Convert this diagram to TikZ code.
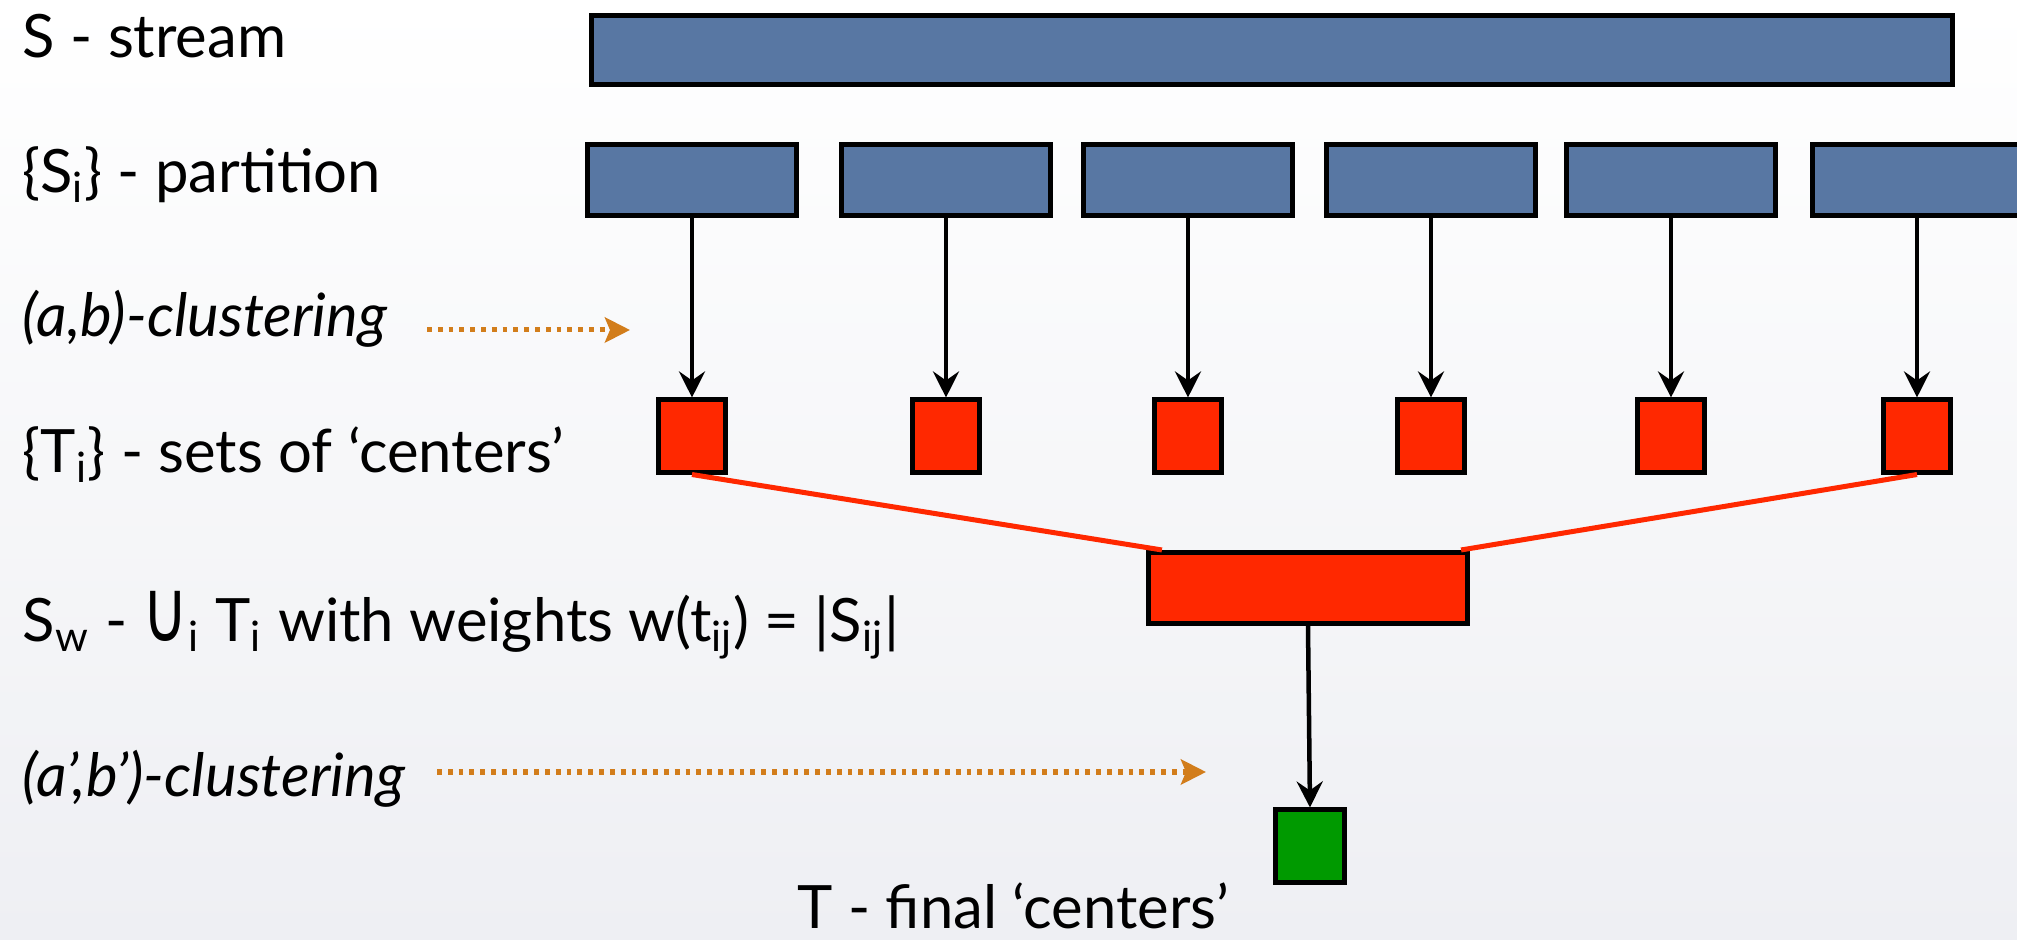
\documentclass[tikz,border=0pt]{standalone}
\usepackage{graphicx}
\usepackage{fontspec}
\setmainfont{Lato}
\newfontfamily\symfont{DejaVu Sans}
\usetikzlibrary{arrows.meta, positioning}
\definecolor{streamblue}{HTML}{5877A3}
\definecolor{centerred}{HTML}{FF2800}
\definecolor{finalgreen}{HTML}{009A00}
\definecolor{arrowgold}{HTML}{D27D1B}
\definecolor{bgbottom}{HTML}{EEEFF3}

\begin{document}
\begin{tikzpicture}[x=0.01cm, y=-0.01cm, line join=miter]
   % Styles
   \tikzset{
    txt/.style={anchor=base west, inner sep=0pt, font=\fontsize{17}{20}\selectfont},
    itxt/.style={txt, font=\fontsize{17}{20}\selectfont\itshape},
    part/.style={draw, line width=0.05cm, fill=streamblue, inner sep=0pt, minimum width=2.09cm, minimum height=0.71cm},
    ctr/.style={draw, line width=0.05cm, fill=centerred, inner sep=0pt, minimum width=0.66cm, minimum height=0.72cm},
    flow/.style={line width=0.045cm, -{Stealth[length=0.26cm, width=0.26cm, inset=0.09cm]}},
    merge/.style={line width=0.05cm, centerred},
    hint/.style={line width=0.05cm, arrowgold, dash pattern=on 0.048cm off 0.06cm, -{Stealth[length=0.25cm, width=0.25cm, inset=0.05cm]}}
   }
   \clip (0,0) rectangle (2017,940);
   \shade[top color=white, bottom color=bgbottom] (0,0) rectangle (2017,940);
  % Nodes
  \node[part, minimum width=13.6cm, minimum height=0.69cm] (stream) at (1272,50) {};
  \foreach \i/\x in {1/692, 2/946, 3/1188, 4/1431, 5/1671, 6/1917} {
    \node[part] (s\i) at (\x,180) {};
    \node[ctr] (t\i) at (\x,436) {};
    \draw[flow] (s\i) -- (t\i);
  }
  \node[ctr, minimum width=3.19cm, minimum height=0.71cm] (sw) at (1308,588) {};
  \node[ctr, fill=finalgreen, minimum width=0.69cm] (fin) at (1310,846) {};
  % Labels
  \node[txt] (lstream) at (22,58) {S - stream};
  \node[txt] (lpart) at (22,193) {\{S\textsubscript{i}\} - partition};
  \node[itxt] (lab) at (22,337) {(a,b)-clustering};
  \node[txt] (lcent) at (22,473) {\{T\textsubscript{i}\} - sets of ‘centers’};
  \node[txt] (lsw) at (22,642) {S\textsubscript{w} - {\symfont\scalebox{1.05}[1.45]{∪}}\textsubscript{i} T\textsubscript{i} with weights w(t\textsubscript{ij}) = |S\textsubscript{ij}|};
  \node[itxt] (labb) at (22,797) {(a’,b’)-clustering};
  \node[txt] (lfin) at (797,929) {T - final ‘centers’};
  % Edges
  \draw[flow] (sw.south) -- (fin.north);
  \draw[merge] (t1.south) -- ([xshift=0.16cm]sw.north west);
  \draw[merge] (t6.south) -- ([xshift=-0.09cm]sw.north east);
  \coordinate (h1s) at (427,330);
  \coordinate (h1e) at (630,330);
  \coordinate (h2s) at (437,772);
  \coordinate (h2e) at (1206,772);
  \draw[hint] (h1s) -- (h1e);
  \draw[hint] (h2s) -- (h2e);
\end{tikzpicture}
\end{document}
